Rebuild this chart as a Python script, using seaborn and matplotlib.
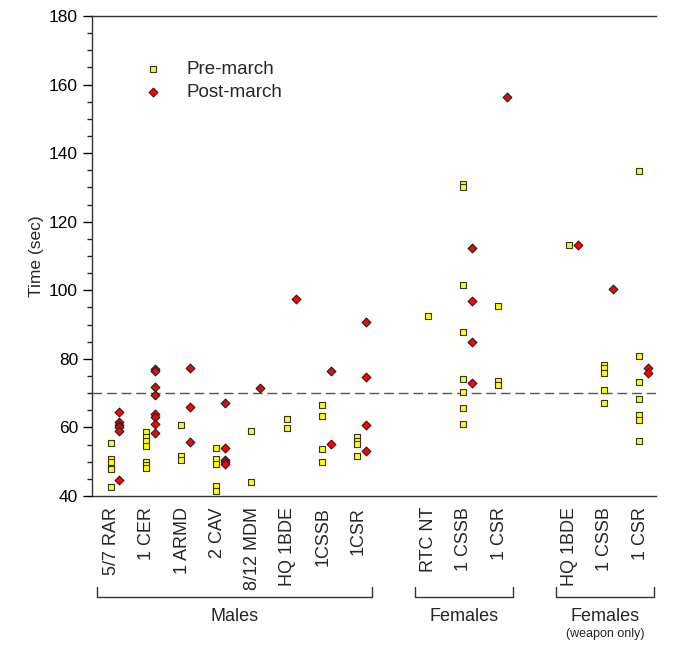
import numpy as np
import pandas as pd
import matplotlib
matplotlib.use('Agg')
import matplotlib.pyplot as plt
import matplotlib.transforms as mtransforms
from matplotlib.ticker import MultipleLocator
import seaborn as sns

# 数据
categories = ['5/7 RAR', '1 CER', '1 ARMD', '2 CAV', '8/12 MDM', 'HQ 1BDE', '1CSSB', '1CSR',
              'RTC NT', '1 CSSB', '1 CSR',
              'HQ 1BDE', '1 CSSB', '1 CSR']
groups = ['Males', 'Females', 'Females']
group_sizes = [8, 3, 3]

pre_march = [
    [55.4, 50.8, 50.0, 48.2, 47.8, 42.6],
    [58.8, 57.3, 56.0, 54.6, 49.8, 49.0, 48.2],
    [60.6, 51.8, 50.4],
    [53.9, 50.9, 49.2, 42.8, 41.6],
    [59.1, 44.1],
    [62.6, 59.7],
    [66.6, 63.4, 53.8, 49.8],
    [57.3, 56.0, 55.2, 51.7],
    [92.5],
    [130.9, 130.1, 101.4, 87.7, 74.1, 70.2, 65.7, 61.1],
    [95.3, 73.4, 72.4],
    [113.1],
    [78.3, 77.3, 76.0, 71.0, 67.1],
    [134.9, 80.9, 73.2, 68.3, 63.7, 62.2, 56.1],
]
post_march = [
    [64.5, 61.7, 60.8, 60.1, 59.1, 44.7],
    [76.9, 76.5, 71.9, 69.5, 64.0, 62.9, 61.0, 58.3],
    [77.3, 65.9, 55.8],
    [67.0, 53.9, 50.6, 49.9, 49.2],
    [71.5],
    [97.5],
    [76.4, 55.1],
    [90.8, 74.8, 60.8, 53.0],
    [],
    [112.4, 97.0, 84.9, 72.9],
    [156.5],
    [113.2],
    [100.3],
    [77.3, 75.8],
]
threshold = 70

# 位置: 每组之间空一格
positions = []
p = 0
for n in group_sizes:
    positions += list(range(p, p + n))
    p += n + 1
offset = 0.255

pre_rows = []
post_rows = []
for i, pos in enumerate(positions):
    for v in pre_march[i]:
        pre_rows.append({'x': pos, 'Time': v})
    for v in post_march[i]:
        post_rows.append({'x': pos + offset, 'Time': v})
df_pre = pd.DataFrame(pre_rows)
df_post = pd.DataFrame(post_rows)

sns.set_style('white')
plt.rcParams['font.family'] = ['Liberation Sans', 'DejaVu Sans']

fig = plt.figure(figsize=(6.81, 6.49), dpi=100)
ax = fig.add_axes([92/681, 1 - 496/649, 564/681, 480/649])

ax.axhline(threshold, color='#555555', lw=1.0, ls=(0, (7, 3.5)), zorder=1)

sns.scatterplot(data=df_pre, x='x', y='Time', marker='s', color='#FFFF00', s=24,
                edgecolor='#333333', linewidth=0.8, ax=ax, zorder=3, label='Pre-march')
sns.scatterplot(data=df_post, x='x', y='Time', marker='D', color='#FF0000', s=20,
                edgecolor='#222222', linewidth=0.8, ax=ax, zorder=3, label='Post-march')

ax.set_xlim(-0.525, 15.48)
ax.set_ylim(40, 180)
ax.yaxis.set_major_locator(MultipleLocator(20))
ax.yaxis.set_minor_locator(MultipleLocator(5))
ax.tick_params(axis='y', which='major', length=6.5, width=1, direction='out', left=True,
               labelsize=12.5, colors='black')
ax.tick_params(axis='y', which='minor', length=3.5, width=1, direction='out', left=True)
ax.set_xticks([pos + 0.03 for pos in positions])
ax.set_xticklabels(categories, rotation=90, fontsize=13)
ax.tick_params(axis='x', length=0, pad=8)
ax.set_xlabel('')
ax.set_ylabel('Time (sec)', fontsize=12.5, labelpad=4)

for side in ['top', 'left', 'bottom']:
    ax.spines[side].set_color('#333333')
    ax.spines[side].set_linewidth(1.0)
ax.spines['right'].set_visible(False)

# 分组括号
trans = mtransforms.blended_transform_factory(ax.transData, ax.transAxes)
start = 0
for k, (g, n) in enumerate(zip(groups, group_sizes)):
    x0 = positions[start] - 0.37
    x1 = positions[start + n - 1] + 0.43
    ax.plot([x0, x0, x1, x1], [-0.19, -0.21, -0.21, -0.19], color='#333333', lw=1.0,
            transform=trans, clip_on=False)
    ax.text((x0 + x1) / 2, -0.252, g, transform=trans, ha='center', va='center', fontsize=13)
    if k == 2:
        ax.text((x0 + x1) / 2, -0.2875, '(weapon only)', transform=trans, ha='center',
                va='center', fontsize=9)
    start += n

leg = ax.legend(loc='upper left', bbox_to_anchor=(0.045, 0.942), frameon=False,
                fontsize=13.5, handletextpad=0.8, labelspacing=0.3)

fig.savefig('out.png', dpi=100)
